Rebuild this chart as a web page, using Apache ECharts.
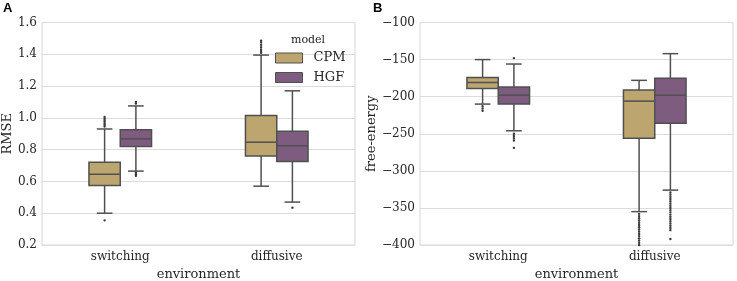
<!DOCTYPE html>
<html>
<head>
<meta charset="utf-8">
<script src="https://cdn.jsdelivr.net/npm/echarts@6/dist/echarts.min.js"></script>
<style>
  html, body { margin: 0; padding: 0; background: #fff; }
  #chart { width: 737px; height: 281px; }
</style>
</head>
<body>
<div id="chart"></div>
<script>
// categories on both panels
const categories = ['switching', 'diffusive'];

// box stats: [min whisker, q1, median, q3, max whisker] per category
const rmseCPM = [[0.40, 0.575, 0.645, 0.72, 0.93], [0.57, 0.76, 0.847, 1.015, 1.395]];
const rmseHGF = [[0.665, 0.82, 0.868, 0.925, 1.075], [0.47, 0.725, 0.825, 0.915, 1.17]];
const rmseCPMOut = [
  [0.355, 0.945, 0.955, 0.965, 0.975, 0.985, 0.995, 1.005],
  [1.41, 1.42, 1.43, 1.445, 1.46, 1.475, 1.485]
];
const rmseHGFOut = [
  [0.635, 0.645, 0.655, 1.09, 1.1],
  [0.435]
];

const feCPM = [[-210, -189, -181, -174, -150], [-355, -256, -206, -191, -178]];
const feHGF = [[-246, -210, -198, -187, -156], [-326, -236, -198, -175, -142]];
const feCPMOut = [
  [-213, -216, -219],
  [-358, -361, -364, -367, -370, -373, -376, -379, -382, -385, -388, -391, -394, -397, -400]
];
const feHGFOut = [
  [-148, -250, -253, -256, -259, -269],
  [-329, -332, -335, -338, -341, -344, -347, -350, -353, -356, -359, -362, -365, -368, -371, -374, -377, -380, -392]
];

const cpmColor = '#bca56e';
const hgfColor = '#7e5c80';
const edge = '#505050';
const font = 'DejaVu Serif';
const textColor = '#262626';

function boxRows(stats) {
  return stats.map((s, i) => [i].concat(s));
}
function outRows(outs) {
  let rows = [];
  outs.forEach((list, i) => list.forEach(v => rows.push([i, v])));
  return rows;
}

function boxRender(side, fill) {
  return function (params, api) {
    let cat = api.value(0);
    let band = api.size([1, 0])[0];
    let w = band * 0.2;
    let cx = api.coord([cat, api.value(3)])[0] + side * w / 2;
    let yMin = api.coord([cat, api.value(1)])[1];
    let yQ1 = api.coord([cat, api.value(2)])[1];
    let yMed = api.coord([cat, api.value(3)])[1];
    let yQ3 = api.coord([cat, api.value(4)])[1];
    let yMax = api.coord([cat, api.value(5)])[1];
    let ln = { stroke: edge, lineWidth: 1.5 };
    return {
      type: 'group',
      children: [
        { type: 'line', shape: { x1: cx, y1: yMin, x2: cx, y2: yQ1 }, style: ln },
        { type: 'line', shape: { x1: cx, y1: yQ3, x2: cx, y2: yMax }, style: ln },
        { type: 'line', shape: { x1: cx - w / 4, y1: yMin, x2: cx + w / 4, y2: yMin }, style: ln },
        { type: 'line', shape: { x1: cx - w / 4, y1: yMax, x2: cx + w / 4, y2: yMax }, style: ln },
        { type: 'rect', shape: { x: cx - w / 2, y: yQ3, width: w, height: yQ1 - yQ3 },
          style: { fill: fill, stroke: edge, lineWidth: 1.5 } },
        { type: 'line', shape: { x1: cx - w / 2, y1: yMed, x2: cx + w / 2, y2: yMed }, style: ln }
      ]
    };
  };
}

function outRender(side) {
  return function (params, api) {
    let cat = api.value(0);
    let band = api.size([1, 0])[0];
    let w = band * 0.2;
    let p = api.coord([cat, api.value(1)]);
    return {
      type: 'circle',
      shape: { cx: p[0] + side * w / 2, cy: p[1], r: 1.2 },
      style: { fill: '#3a3a3a' }
    };
  };
}

function panelSeries(idx, cpm, hgf, cpmOut, hgfOut) {
  return [
    { name: 'CPM', type: 'custom', xAxisIndex: idx, yAxisIndex: idx,
      itemStyle: { color: cpmColor }, renderItem: boxRender(-1, cpmColor),
      encode: { x: 0, y: [1, 2, 3, 4, 5] }, data: boxRows(cpm) },
    { name: 'HGF', type: 'custom', xAxisIndex: idx, yAxisIndex: idx,
      itemStyle: { color: hgfColor }, renderItem: boxRender(1, hgfColor),
      encode: { x: 0, y: [1, 2, 3, 4, 5] }, data: boxRows(hgf) },
    { name: 'CPM out', type: 'custom', xAxisIndex: idx, yAxisIndex: idx,
      renderItem: outRender(-1), encode: { x: 0, y: 1 }, data: outRows(cpmOut) },
    { name: 'HGF out', type: 'custom', xAxisIndex: idx, yAxisIndex: idx,
      renderItem: outRender(1), encode: { x: 0, y: 1 }, data: outRows(hgfOut) }
  ];
}

function xAxisFor(idx) {
  return {
    type: 'category', gridIndex: idx, data: categories,
    name: 'environment', nameLocation: 'middle', nameGap: 21,
    nameTextStyle: { fontFamily: font, fontSize: 13, color: textColor },
    axisLine: { show: false }, axisTick: { show: false },
    axisLabel: { fontFamily: font, fontSize: 12, color: textColor, margin: 6 },
    splitLine: { show: false }
  };
}

function yAxisFor(idx, name, min, max, step, gap, fmt) {
  return {
    type: 'value', gridIndex: idx, min: min, max: max, interval: step,
    name: name, nameLocation: 'middle', nameGap: gap,
    nameTextStyle: { fontFamily: font, fontSize: 13, color: textColor },
    axisLine: { show: false }, axisTick: { show: false },
    axisLabel: { fontFamily: font, fontSize: 12, color: textColor, margin: 5, formatter: fmt },
    splitLine: { lineStyle: { color: '#dcdcdc', width: 1 } }
  };
}

const myChart = echarts.init(document.getElementById('chart'));
myChart.setOption({
  animation: false,
  backgroundColor: '#fff',
  title: [
    { text: 'A', left: 3, top: 2, padding: 0,
      textStyle: { fontFamily: 'Liberation Sans', fontWeight: 'bold', fontSize: 13, color: '#000' } },
    { text: 'B', left: 373, top: 2, padding: 0,
      textStyle: { fontFamily: 'Liberation Sans', fontWeight: 'bold', fontSize: 13, color: '#000' } },
    { text: 'model', left: 291, top: 35, padding: 0,
      textStyle: { fontFamily: font, fontWeight: 'normal', fontSize: 11, color: textColor } }
  ],
  legend: {
    data: ['CPM', 'HGF'], orient: 'vertical', left: 275, top: 51.5, padding: 0,
    itemWidth: 27, itemHeight: 10, itemGap: 6.5, icon: 'rect',
    itemStyle: { borderColor: edge, borderWidth: 1 },
    textStyle: { fontFamily: font, fontSize: 13, color: textColor, padding: [0, 0, 0, 6] }
  },
  grid: [
    { left: 42, right: 382, top: 22.5, bottom: 36, outerBoundsMode: 'none',
      show: true, borderColor: '#d6d6d6', borderWidth: 1 },
    { left: 420, right: 4, top: 22.5, bottom: 36, outerBoundsMode: 'none',
      show: true, borderColor: '#d6d6d6', borderWidth: 1 }
  ],
  xAxis: [xAxisFor(0), xAxisFor(1)],
  yAxis: [
    yAxisFor(0, 'RMSE', 0.2, 1.6, 0.2, 27, v => v.toFixed(1)),
    yAxisFor(1, 'free-energy', -400, -100, 50, 33, v => String(v).replace('-', '\u2212'))
  ],
  series: panelSeries(0, rmseCPM, rmseHGF, rmseCPMOut, rmseHGFOut)
    .concat(panelSeries(1, feCPM, feHGF, feCPMOut, feHGFOut))
});
</script>
</body>
</html>
